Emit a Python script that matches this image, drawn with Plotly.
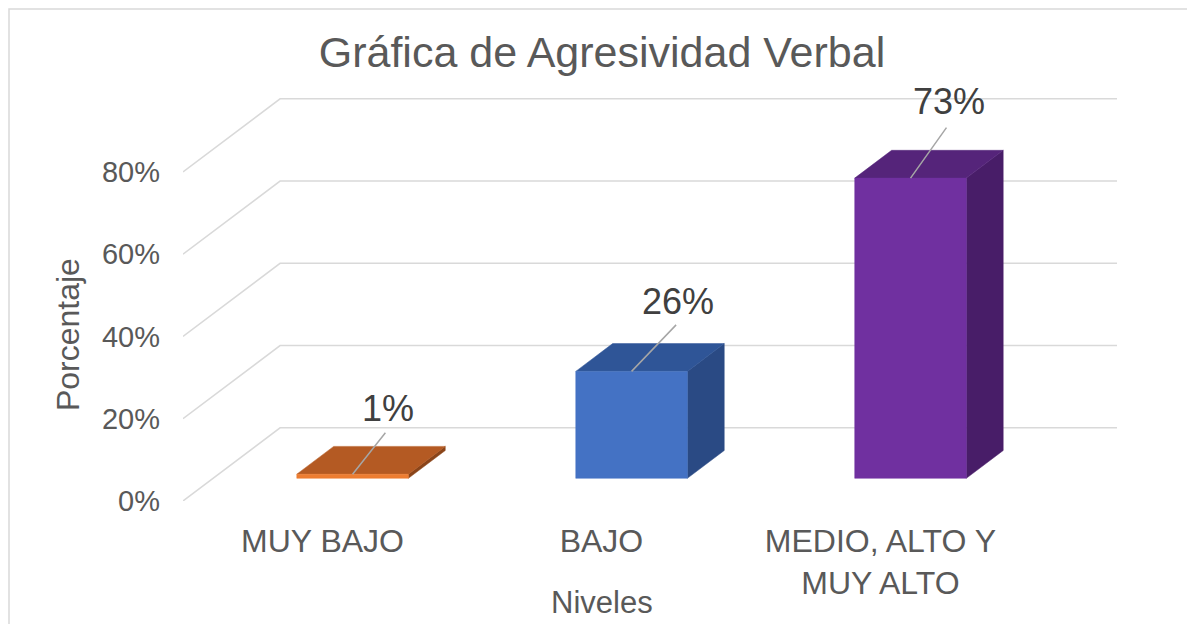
import plotly.graph_objects as go

# Datos
niveles = ["MUY BAJO", "BAJO", "MEDIO, ALTO Y<br>MUY ALTO"]
porcentajes = [1, 26, 73]
etiquetas = ["1%", "26%", "73%"]
ticks_y = [0, 20, 40, 60, 80]
ticks_y_texto = ["0%", "20%", "40%", "60%", "80%"]

# Colores de las caras (frente, techo, lado)
color_frente = ["#ED7D31", "#4472C4", "#7030A0"]
color_techo = ["#B45A23", "#2F5597", "#55247A"]
color_lado = ["#8A4419", "#2A4A84", "#481D68"]

# Desplazamiento (px) de las lineas guia y de las etiquetas
guia_dx = [34, 46, 37]
guia_dy = [-43, -48, -52]
etiq_dx = [35, 46, 38]
etiq_dy = [66, 70, 77]

# Proyeccion oblicua para simular el 3D de Excel
DX = 0.348   # desplazamiento en x por profundidad (unidades de categoria)
DY = 17.8    # desplazamiento en y por profundidad (puntos de %)
Z0, Z1 = 0.31, 0.69
ANCHO = 0.4
GRIS_TEXTO = "#595959"
FUENTE = "Liberation Sans, Arial, sans-serif"


def proy(x, y, z):
    return x + z * DX, y + z * DY


def cara(puntos, color):
    xs = [p[0] for p in puntos] + [puntos[0][0]]
    ys = [p[1] for p in puntos] + [puntos[0][1]]
    return go.Scatter(x=xs, y=ys, mode="lines", fill="toself",
                      fillcolor=color, line=dict(color=color, width=0.5),
                      hoverinfo="skip", showlegend=False)


fig = go.Figure()

# Lineas de division: pared lateral + pared del fondo
gx, gy = [], []
n = len(niveles)
for t in ticks_y:
    for p in [proy(0, t, 0), proy(0, t, 1), proy(n, t, 1)]:
        gx.append(p[0])
        gy.append(p[1])
    gx.append(None)
    gy.append(None)
fig.add_trace(go.Scatter(x=gx, y=gy, mode="lines",
                         line=dict(color="#D9D9D9", width=1.5),
                         hoverinfo="skip", showlegend=False))

# Barras
for i, v in enumerate(porcentajes):
    c = i + 0.5
    xl, xr = c - ANCHO / 2, c + ANCHO / 2
    lado = [proy(xr, 0, Z0), proy(xr, 0, Z1), proy(xr, v, Z1), proy(xr, v, Z0)]
    techo = [proy(xl, v, Z0), proy(xr, v, Z0), proy(xr, v, Z1), proy(xl, v, Z1)]
    frente = [proy(xl, 0, Z0), proy(xr, 0, Z0), proy(xr, v, Z0), proy(xl, v, Z0)]
    fig.add_trace(cara(lado, color_lado[i]))
    fig.add_trace(cara(techo, color_techo[i]))
    fig.add_trace(cara(frente, color_frente[i]))

    # linea guia + etiqueta de datos
    px_, py_ = proy(c, v, Z0)
    fig.add_annotation(x=px_, y=py_, xref="x", yref="y", text="",
                       showarrow=True, arrowhead=0, arrowwidth=1.5,
                       arrowcolor="#A6A6A6", ax=guia_dx[i], ay=guia_dy[i],
                       standoff=0)
    fig.add_annotation(x=px_, y=py_, xref="x", yref="y", text=etiquetas[i],
                       showarrow=False, xshift=etiq_dx[i], yshift=etiq_dy[i],
                       xanchor="center", yanchor="middle",
                       font=dict(size=36, color="#404040", family=FUENTE))

# Titulos de ejes
fig.add_annotation(text="Niveles", xref="paper", yref="paper",
                   x=0.4486, y=-0.253, showarrow=False,
                   xanchor="center", yanchor="middle",
                   font=dict(size=31, color=GRIS_TEXTO, family=FUENTE))
fig.add_annotation(text="Porcentaje", xref="paper", yref="paper",
                   x=-0.123, y=0.412, showarrow=False, textangle=-90,
                   xanchor="center", yanchor="middle",
                   font=dict(size=32, color=GRIS_TEXTO, family=FUENTE))

# Borde del grafico
fig.add_shape(type="rect", xref="paper", yref="paper",
              x0=(1 - 175) / 934, x1=1.2, y0=-0.4, y1=(493 - 1) / 403,
              line=dict(color="#D9D9D9", width=1.5), layer="below")

fig.update_layout(
    width=1195, height=624,
    margin=dict(l=175, r=86, t=90, b=131),
    paper_bgcolor="white", plot_bgcolor="white",
    font=dict(family=FUENTE, color=GRIS_TEXTO),
    title=dict(text="Gráfica de Agresividad Verbal", x=0.4486, xref="paper",
               y=1 - 44 / 624, yanchor="middle", xanchor="center",
               font=dict(size=43, color=GRIS_TEXTO, family=FUENTE)),
    xaxis=dict(range=[0, n + DX], showgrid=False, zeroline=False,
               showline=False, tickvals=[i + 0.5 for i in range(n)],
               ticktext=niveles, ticks="", ticklabelstandoff=18,
               tickfont=dict(size=32, color=GRIS_TEXTO)),
    yaxis=dict(range=[0, 98], showgrid=False, zeroline=False,
               showline=False, tickvals=ticks_y, ticktext=ticks_y_texto,
               ticks="", ticklabelstandoff=22,
               tickfont=dict(size=29, color=GRIS_TEXTO)),
)

fig.write_html("out.html")
